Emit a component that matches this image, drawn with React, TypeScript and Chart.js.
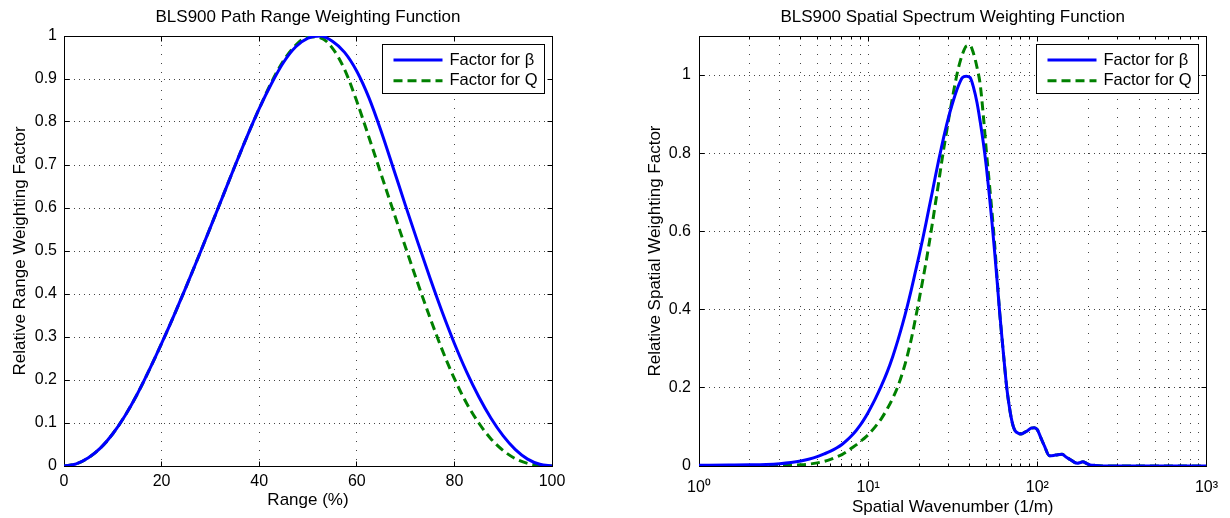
import React, { useEffect, useRef } from 'react';
import { Chart, registerables } from 'chart.js';

Chart.register(...registerables);

const FONT = '"Liberation Sans", Arial, Helvetica, sans-serif';

// ---------- Left plot: path range weighting ----------
const RANGE_TITLE = 'BLS900 Path Range Weighting Function';
const RANGE_X_TITLE = 'Range (%)';
const RANGE_Y_TITLE = 'Relative Range Weighting Factor';
const RANGE_X = [0, 2.5, 5, 7.5, 10, 12.5, 15, 17.5, 20, 22.5, 25, 27.5, 30, 32.5, 35, 37.5, 40, 42.5, 45, 47.5, 50, 52.5, 55, 57.5, 60, 62.5, 65, 67.5, 70, 72.5, 75, 77.5, 80, 82.5, 85, 87.5, 90, 92.5, 95, 97.5, 100];
const RANGE_BETA = [0, 0.005, 0.019, 0.042, 0.075, 0.117, 0.167, 0.224, 0.285, 0.349, 0.416, 0.485, 0.555, 0.626, 0.697, 0.766, 0.831, 0.889, 0.939, 0.975, 0.995, 1.0, 0.988, 0.962, 0.918, 0.856, 0.778, 0.692, 0.605, 0.52, 0.437, 0.358, 0.285, 0.219, 0.161, 0.111, 0.07, 0.038, 0.016, 0.004, 0];
const RANGE_Q = [0, 0.005, 0.019, 0.042, 0.075, 0.117, 0.167, 0.224, 0.285, 0.349, 0.416, 0.485, 0.555, 0.626, 0.697, 0.766, 0.831, 0.892, 0.943, 0.979, 0.998, 0.996, 0.972, 0.922, 0.848, 0.764, 0.678, 0.592, 0.508, 0.425, 0.345, 0.27, 0.203, 0.146, 0.1, 0.063, 0.036, 0.017, 0.006, 0.001, 0];
const RANGE_X_TICKS = [0, 20, 40, 60, 80, 100];
const RANGE_Y_TICKS = [0, 0.1, 0.2, 0.3, 0.4, 0.5, 0.6, 0.7, 0.8, 0.9, 1];

// ---------- Right plot: spatial spectrum weighting ----------
const WAVE_TITLE = 'BLS900 Spatial Spectrum Weighting Function';
const WAVE_X_TITLE = 'Spatial Wavenumber (1/m)';
const WAVE_Y_TITLE = 'Relative Spatial Weighting Factor';
const WAVE_X = [1, 1.5, 2, 2.5, 3, 3.5, 4, 4.5, 5, 5.5, 6, 6.5, 7, 7.5, 8, 8.5, 9, 9.5, 10, 11, 12, 13, 14, 15, 16, 17, 18, 19, 20, 21, 22, 23, 24, 25, 26, 27, 28, 29, 30, 31, 32, 33, 34, 35, 36, 38, 40, 42, 44, 46, 48, 50, 52, 54, 56, 58, 60, 62, 64, 66, 68, 70, 72, 74, 77, 80, 84, 88, 92, 96, 100, 105, 110, 118, 125, 132, 140, 148, 157, 165, 172, 180, 186, 195, 205, 220, 257, 400, 1000];
const WAVE_BETA = [0.002, 0.0025, 0.003, 0.004, 0.006, 0.009, 0.013, 0.018, 0.024, 0.031, 0.038, 0.046, 0.055, 0.066, 0.078, 0.091, 0.105, 0.1205, 0.137, 0.171, 0.206, 0.242, 0.281, 0.322, 0.364, 0.407, 0.451, 0.496, 0.538, 0.58, 0.622, 0.664, 0.703, 0.742, 0.778, 0.811, 0.842, 0.87, 0.895, 0.917, 0.937, 0.955, 0.97, 0.983, 0.993, 0.997, 0.994, 0.968, 0.93, 0.88, 0.826, 0.765, 0.695, 0.622, 0.546, 0.468, 0.39, 0.322, 0.258, 0.2, 0.158, 0.125, 0.102, 0.09, 0.084, 0.082, 0.086, 0.091, 0.097, 0.098, 0.093, 0.072, 0.052, 0.026, 0.027, 0.029, 0.03, 0.023, 0.016, 0.01, 0.007, 0.009, 0.011, 0.007, 0.003, 0.0015, 0, 0, 0];
const WAVE_Q = [0, 0, 0, 0.0005, 0.001, 0.002, 0.003, 0.005, 0.008, 0.012, 0.017, 0.023, 0.029, 0.037, 0.046, 0.054, 0.063, 0.071, 0.08, 0.1, 0.122, 0.147, 0.174, 0.204, 0.24, 0.28, 0.325, 0.375, 0.425, 0.474, 0.522, 0.572, 0.622, 0.672, 0.72, 0.768, 0.812, 0.852, 0.89, 0.925, 0.958, 0.988, 1.014, 1.035, 1.052, 1.074, 1.076, 1.055, 1.02, 0.975, 0.895, 0.805, 0.726, 0.648, 0.566, 0.475, 0.39, 0.322, 0.258, 0.2, 0.158, 0.125, 0.102, 0.09, 0.084, 0.082, 0.086, 0.091, 0.097, 0.098, 0.093, 0.072, 0.052, 0.026, 0.027, 0.029, 0.03, 0.023, 0.016, 0.01, 0.007, 0.009, 0.011, 0.007, 0.003, 0.0015, 0, 0, 0];
const WAVE_X_GRID = [1, 2, 3, 4, 5, 6, 7, 8, 9, 10, 20, 30, 40, 50, 60, 70, 80, 90, 100, 200, 300, 400, 500, 600, 700, 800, 900, 1000];
const WAVE_X_MAJOR = [1, 10, 100, 1000];
const WAVE_X_LABELS: Record<string, string> = { '1': '10\u2070', '10': '10\u00b9', '100': '10\u00b2', '1000': '10\u00b3' };
const WAVE_Y_TICKS = [0, 0.2, 0.4, 0.6, 0.8, 1];

const SERIES_LABELS = ['Factor for \u03b2', 'Factor for Q'];
const SERIES_COLORS = ['#0000ff', '#008000'];

const H = 518;

const align = (p: number) => Math.round(p - 0.5) + 0.5;
const fmt = (v: number) => String(Math.round(v * 1000) / 1000);

const matlabPlugin = {
  id: 'matlabAxes',
  beforeDatasetsDraw(chart: any, _a: any, opts: any) {
    const { ctx, chartArea } = chart;
    const xs = chart.scales.x;
    const ys = chart.scales.y;
    const L = align(chartArea.left);
    const R = align(chartArea.right);
    const T = align(chartArea.top);
    const B = align(chartArea.bottom);
    const major: number[] | null = opts.majorX || null;
    ctx.save();
    ctx.setLineDash([]);
    ctx.strokeStyle = '#000';
    ctx.lineWidth = 1;
    ctx.beginPath();
    for (const t of xs.ticks) {
      const px = align(xs.getPixelForValue(t.value));
      const len = major && !major.includes(t.value) ? 3 : 5;
      ctx.moveTo(px, B);
      ctx.lineTo(px, B - len);
      ctx.moveTo(px, T);
      ctx.lineTo(px, T + len);
    }
    for (const t of ys.ticks) {
      const py = align(ys.getPixelForValue(t.value));
      ctx.moveTo(L, py);
      ctx.lineTo(L + 5, py);
      ctx.moveTo(R, py);
      ctx.lineTo(R - 5, py);
    }
    ctx.stroke();
    ctx.strokeRect(L, T, R - L, B - T);
    ctx.restore();
  },
  afterDraw(chart: any) {
    const { ctx, chartArea } = chart;
    const ds = chart.data.datasets;
    ctx.save();
    ctx.font = `16.5px ${FONT}`;
    const tw = Math.max(...ds.map((d: any) => ctx.measureText(d.label).width));
    const w = Math.round(67 + tw + 7);
    const h = 49;
    const bx = align(chartArea.right - 8 - w);
    const by = align(chartArea.top + 8);
    ctx.fillStyle = '#fff';
    ctx.fillRect(bx, by, w, h);
    ctx.strokeStyle = '#000';
    ctx.lineWidth = 1;
    ctx.setLineDash([]);
    ctx.strokeRect(bx, by, w, h);
    ds.forEach((d: any, i: number) => {
      const cy = by + 15.5 + i * 20.7;
      ctx.strokeStyle = d.borderColor;
      ctx.lineWidth = d.borderWidth;
      ctx.setLineDash(d.borderDash || []);
      ctx.beginPath();
      ctx.moveTo(bx + 11, cy);
      ctx.lineTo(bx + 60, cy);
      ctx.stroke();
      ctx.setLineDash([]);
      ctx.fillStyle = '#000';
      ctx.textAlign = 'left';
      ctx.textBaseline = 'middle';
      ctx.fillText(d.label, bx + 67, cy);
    });
    ctx.restore();
  },
};

function makeDatasets(xs: number[], a: number[], b: number[]) {
  const common = { pointRadius: 0, borderWidth: 3, fill: false, cubicInterpolationMode: 'monotone' } as any;
  return [
    { ...common, label: SERIES_LABELS[0], data: xs.map((x, i) => ({ x, y: a[i] })), borderColor: SERIES_COLORS[0] },
    { ...common, label: SERIES_LABELS[1], data: xs.map((x, i) => ({ x, y: b[i] })), borderColor: SERIES_COLORS[1], borderDash: [9, 5] },
  ];
}

function baseOptions(p: {
  title: string; xTitle: string; yTitle: string; padRight: number; yWidth: number;
  yTitlePad: number; xTitlePad: number; xTickPad: number; yTickPad: number;
  majorX: number[] | null;
}) {
  const tickFont = { family: FONT, size: 16 };
  const labelFont = { family: FONT, size: 17, lineHeight: 1.2 };
  return {
    animation: false,
    responsive: false,
    events: [],
    layout: { padding: { left: 0, right: p.padRight, top: 0, bottom: 0 } },
    plugins: {
      legend: { display: false },
      tooltip: { enabled: false },
      title: {
        display: true, text: p.title, fullSize: false, color: '#000',
        font: { family: FONT, size: 17, weight: 'normal', lineHeight: 1.2 },
        padding: { top: 6.8, bottom: 8.8 },
      },
      matlabAxes: { majorX: p.majorX },
    },
    scales: {
      x: {
        afterFit: (s: any) => { s.height = H - 466; },
        ticks: { font: tickFont, color: '#000', padding: p.xTickPad, maxRotation: 0, autoSkip: false },
        grid: { color: '#444', lineWidth: 1, drawTicks: false },
        border: { display: false, dash: [1, 8] },
        title: { display: true, text: p.xTitle, color: '#000', font: labelFont, padding: { top: 0, bottom: p.xTitlePad } },
      },
      y: {
        min: 0,
        afterFit: (s: any) => { s.width = p.yWidth; },
        ticks: { font: tickFont, color: '#000', padding: p.yTickPad, autoSkip: false, callback: (v: number) => fmt(v) },
        grid: { color: '#444', lineWidth: 1, drawTicks: false },
        border: { display: false, dash: [1, 4] },
        title: { display: true, text: p.yTitle, color: '#000', font: labelFont, padding: { top: p.yTitlePad, bottom: 0 } },
      },
    },
  } as any;
}

function rangeConfig(): any {
  const options = baseOptions({
    title: RANGE_TITLE, xTitle: RANGE_X_TITLE, yTitle: RANGE_Y_TITLE,
    padRight: 63, yWidth: 64, yTitlePad: 10, xTitlePad: 7.8, xTickPad: 6, yTickPad: 7, majorX: null,
  });
  Object.assign(options.scales.x, {
    type: 'linear', min: 0, max: 100,
    afterBuildTicks: (s: any) => { s.ticks = RANGE_X_TICKS.map((v) => ({ value: v })); },
  });
  options.scales.x.ticks.callback = (v: number) => fmt(v);
  Object.assign(options.scales.y, {
    type: 'linear', max: 1,
    afterBuildTicks: (s: any) => { s.ticks = RANGE_Y_TICKS.map((v) => ({ value: v })); },
  });
  return {
    type: 'line',
    data: { datasets: makeDatasets(RANGE_X, RANGE_BETA, RANGE_Q) },
    options,
    plugins: [matlabPlugin],
  };
}

function waveConfig(): any {
  const options = baseOptions({
    title: WAVE_TITLE, xTitle: WAVE_X_TITLE, yTitle: WAVE_Y_TITLE,
    padRight: 15, yWidth: 84, yTitlePad: 30, xTitlePad: 0, xTickPad: 12, yTickPad: 8, majorX: WAVE_X_MAJOR,
  });
  Object.assign(options.scales.x, {
    type: 'logarithmic', min: 1, max: 1000,
    afterBuildTicks: (s: any) => { s.ticks = WAVE_X_GRID.map((v) => ({ value: v })); },
  });
  options.scales.x.ticks.callback = (v: number) => WAVE_X_LABELS[String(v)] ?? '';
  Object.assign(options.scales.y, {
    type: 'linear', max: 1.1,
    afterBuildTicks: (s: any) => { s.ticks = WAVE_Y_TICKS.map((v) => ({ value: v })); },
  });
  return {
    type: 'line',
    data: { datasets: makeDatasets(WAVE_X, WAVE_BETA, WAVE_Q) },
    options,
    plugins: [matlabPlugin],
  };
}

function Plot({ left, width, makeConfig }: { left: number; width: number; makeConfig: () => any }) {
  const ref = useRef<HTMLCanvasElement>(null);
  useEffect(() => {
    const chart = new Chart(ref.current as HTMLCanvasElement, makeConfig());
    return () => chart.destroy();
  }, [makeConfig]);
  return (
    <div style={{ position: 'absolute', left, top: 0, width, height: H }}>
      <canvas ref={ref} width={width} height={H} style={{ display: 'block', width, height: H }} />
    </div>
  );
}

export default function App() {
  return (
    <div style={{ position: 'fixed', left: 0, top: 0, width: 1230, height: H, background: '#fff', overflow: 'hidden' }}>
      <Plot left={0} width={615} makeConfig={rangeConfig} />
      <Plot left={615} width={615} makeConfig={waveConfig} />
    </div>
  );
}
